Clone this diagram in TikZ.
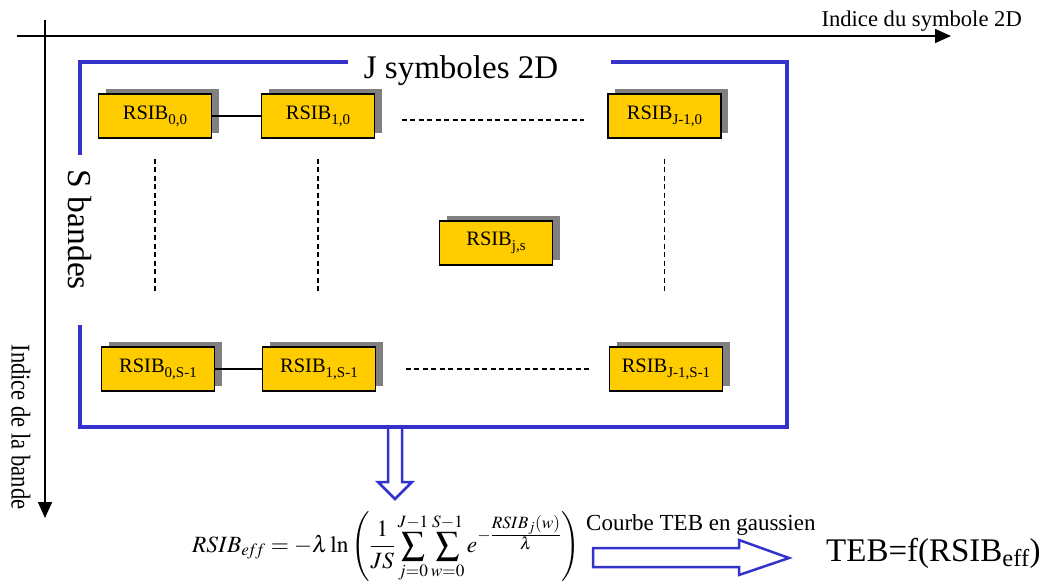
\documentclass[tikz,border=0pt]{standalone}
\usepackage{mathptmx}
\usepackage{fontspec}
\setmainfont{Liberation Serif}
\usetikzlibrary{arrows.meta,shadows}
\definecolor{bblue}{RGB}{51,51,204}
\definecolor{byellow}{RGB}{255,204,0}
\newcommand\boxsub[1]{\raisebox{-5pt}{\fontsize{15}{18}\selectfont #1}}
\begin{document}
\begin{tikzpicture}[x=1pt,y=-1pt,
  rsib/.style={draw=black, line width=1.2pt, fill=byellow, minimum width=113pt, minimum height=44pt, inner sep=0pt,
    font=\fontsize{20.5}{24}\selectfont, general shadow={fill=gray, shadow xshift=7pt, shadow yshift=5pt}},
  lbl/.style={inner sep=0pt},
  link/.style={line width=1.3pt},
  dotlink/.style={line width=1.3pt, dash pattern=on 5pt off 3.5pt},
  bracket/.style={draw=bblue, line width=4pt},
  hollow/.style={draw=bblue, line width=2.5pt, fill=white, line join=miter},
  axis/.style={line width=1.5pt, -{Triangle[length=16pt,width=14pt]}}
]
\useasboundingbox (0,0) rectangle (1045,586);

% axes
\coordinate (hx0) at (17,36);
\coordinate (hx1) at (951,36);
\coordinate (vy0) at (45,20);
\coordinate (vy1) at (45,518);
\draw[axis] (hx0) -- (hx1);
\draw[axis] (vy0) -- (vy1);
\node[lbl, anchor=base east, font=\fontsize{22.6}{26}\selectfont] (hlab) at (1022,27) {Indice du symbole 2D};
\node[lbl, rotate=-90, font=\fontsize{22.6}{26}\selectfont] (vlab) at (21,427) {\scalebox{1}[1.2]{Indice de la bande}};

% bracket
\node[lbl, anchor=base, font=\fontsize{33}{38}\selectfont] (jsym) at (461,78) {J symboles 2D};
\node[lbl, rotate=-90, font=\fontsize{33.5}{38}\selectfont] (sband) at (80,230) {S bandes};
\coordinate (tl) at (80,62);
\coordinate (tr) at (787,62);
\coordinate (br) at (787,427);
\coordinate (bl) at (80,427);
\coordinate (tlgap) at (348,62);
\coordinate (trgap) at (611,62);
\coordinate (lgap1) at (80,155);
\coordinate (lgap2) at (80,325);
\draw[bracket] (tlgap) -- (tl) -- (lgap1);
\draw[bracket] (lgap2) -- (bl) -- (br) -- (tr) -- (trgap);

% boxes
\node[rsib] (a00) at (155,116) {RSIB\boxsub{0,0}};
\node[rsib] (a10) at (318,116) {RSIB\boxsub{1,0}};
\node[rsib] (aJ0) at (664.5,116) {RSIB\boxsub{J-1,0}};
\node[rsib] (ajs) at (496,243) {RSIB\boxsub{j,s}};
\node[rsib] (a0S) at (158,369) {RSIB\boxsub{0,S-1}};
\node[rsib] (a1S) at (319,369) {RSIB\boxsub{1,S-1}};
\node[rsib] (aJS) at (666,369) {RSIB\boxsub{J-1,S-1}};

% connectors
\draw[link] (a00) -- (a10);
\draw[dotlink, shorten <=26.5pt, shorten >=23pt] ([yshift=-4pt]a10.east) -- ([yshift=-4pt]aJ0.west);
\draw[dotlink, shorten <=20pt, shorten >=52pt] (a00.south) -- (a00.south |- a0S.north);
\draw[dotlink, shorten <=20pt, shorten >=52pt] (a10.south) -- (a10.south |- a1S.north);
\draw[dotlink, shorten <=20pt, shorten >=52pt] (aJ0.south) -- (aJ0.south |- aJS.north);
\draw[link] (a0S) -- (a1S);
\draw[dotlink, shorten <=29.5pt, shorten >=19.5pt] (a1S.east) -- (aJS.west);

% hollow arrows
\draw[hollow] (388,429) -- (388,482) -- (378,482) -- (395,499) -- (412,482) -- (402,482) -- (402,429);
\draw[hollow] (593,548) -- (739,548) -- (739,540) -- (789,558) -- (739,575) -- (739,567) -- (593,567) -- cycle;

% formula and result
\node[lbl, anchor=west, font=\fontsize{23.3}{28}\selectfont] (formula) at (192,547)
  {$\displaystyle RSIB_{e\!f\!f} = -\lambda\ln\left(\frac{1}{JS}\sum_{j=0}^{J-1}\sum_{w=0}^{S-1} e^{-\frac{\scriptstyle RSIB_j(w)}{\scriptstyle\lambda}}\right)$};
\node[lbl, anchor=base west, font=\fontsize{23}{27}\selectfont] (courbe) at (586,530) {Courbe TEB en gaussien};
\node[lbl, anchor=base west, font=\fontsize{33}{40}\selectfont] (teb) at (826,561) {TEB=f(RSIB\textsubscript{eff})};
\end{tikzpicture}
\end{document}
